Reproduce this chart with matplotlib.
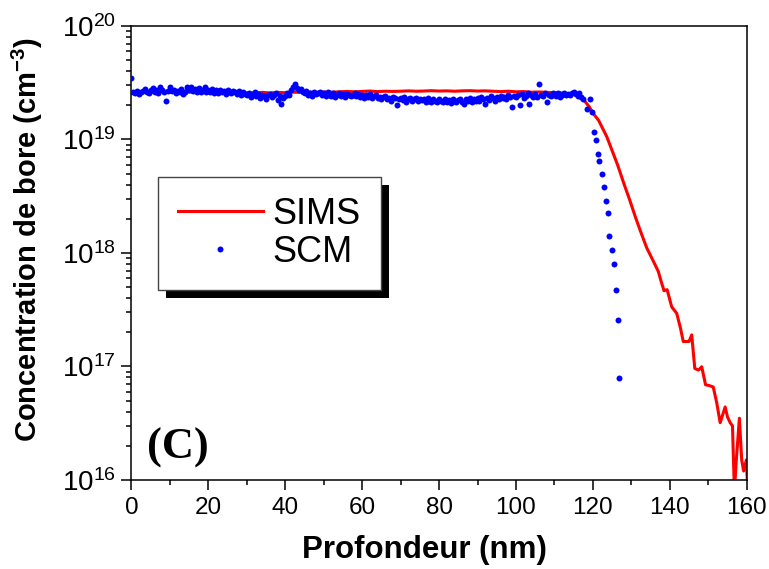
import matplotlib
matplotlib.use("Agg")
import matplotlib.pyplot as plt
import numpy as np
from matplotlib.patches import Rectangle
from matplotlib.ticker import LogLocator, MultipleLocator

plt.rcParams["font.family"] = ["Liberation Sans", "DejaVu Sans"]
plt.rcParams["mathtext.fontset"] = "custom"
plt.rcParams["mathtext.rm"] = "Liberation Sans"
plt.rcParams["mathtext.it"] = "Liberation Sans:italic"
plt.rcParams["mathtext.bf"] = "Liberation Sans:bold"

# --- SIMS profile (depth nm, boron concentration cm^-3) ---------------------
sims_depth = [0, 2, 4, 6, 8, 10, 12, 14, 16, 18, 20, 22, 24, 26, 28, 30, 32, 34, 36, 38,
              40, 42, 44, 46, 48, 50, 52, 54, 56, 58, 60, 62, 64, 66, 68, 70, 72, 74, 76, 78,
              80, 82, 84, 86, 88, 90, 92, 94, 96, 98, 100, 102, 104, 106, 108, 110, 112, 114,
              116, 117, 118, 119, 120, 121.5, 123.6, 125, 126.5, 128, 129.5, 131, 132.3,
              134, 135.5, 137, 137.8, 138.5, 139.3, 140.5, 141.8, 142.8, 143.5, 145.0,
              145.7, 146.5, 147.5, 148.3, 149.3, 150.2, 151.3, 152.2, 153.1, 154.4,
              155.0, 155.7, 156.3, 156.8, 157.3, 158.1, 158.7, 159.2, 159.9, 160.3]
sims_conc = [2.55e19, 2.60e19, 2.62e19, 2.58e19, 2.65e19, 2.60e19, 2.63e19, 2.66e19, 2.60e19, 2.64e19,
             2.62e19, 2.65e19, 2.60e19, 2.58e19, 2.60e19, 2.57e19, 2.58e19, 2.60e19, 2.57e19, 2.60e19,
             2.58e19, 2.61e19, 2.60e19, 2.62e19, 2.60e19, 2.62e19, 2.61e19, 2.63e19, 2.65e19, 2.63e19,
             2.65e19, 2.67e19, 2.64e19, 2.66e19, 2.65e19, 2.66e19, 2.68e19, 2.66e19, 2.67e19, 2.69e19,
             2.67e19, 2.68e19, 2.66e19, 2.68e19, 2.69e19, 2.67e19, 2.68e19, 2.66e19, 2.64e19, 2.66e19,
             2.63e19, 2.64e19, 2.61e19, 2.62e19, 2.60e19, 2.58e19, 2.57e19, 2.53e19,
             2.45e19, 2.35e19, 2.15e19, 1.95e19, 1.71e19, 1.47e19, 1.06e19, 7.98e18, 5.87e18, 4.14e18,
             2.98e18, 2.10e18, 1.58e18, 1.11e18, 8.77e17, 6.89e17, 5.54e17, 4.65e17, 4.75e17, 3.35e17,
             2.94e17, 2.16e17, 1.66e17, 1.66e17, 1.90e17, 9.6e16, 9.3e16, 9.95e16, 6.9e16, 6.8e16,
             6.6e16, 4.8e16, 3.2e16, 4.4e16, 3.6e16, 3.2e16, 3.0e16, 8e15, 1.5e16, 3.5e16,
             1.5e16, 1.2e16, 1.5e16, 8e15]

# --- SCM profile: plateau sampled every 0.5 nm (x1e19 cm^-3) ----------------
scm_plateau = [
    3.45, 2.60, 2.55, 2.68, 2.50, 2.60, 2.65, 2.78, 2.60, 2.55, 2.70, 2.85, 2.62, 2.75, 2.58, 2.90, 2.70, 2.62, 2.20, 2.65,
    2.88, 2.65, 2.75, 2.55, 2.68, 2.62, 2.80, 2.50, 2.60, 2.90, 2.72, 2.92, 2.65, 2.78, 2.60, 2.85, 2.62, 2.75, 2.88, 2.60,
    2.72, 2.62, 2.78, 2.55, 2.70, 2.58, 2.75, 2.60, 2.68, 2.52, 2.70, 2.60, 2.55, 2.68, 2.62, 2.50, 2.65, 2.45, 2.60, 2.50,
    2.45, 2.55, 2.38, 2.50, 2.60, 2.42, 2.52, 2.32, 2.48, 2.40, 2.28, 2.45, 2.52, 2.35, 2.48, 2.58, 2.22, 2.40, 2.05, 2.32,
    2.40, 2.55, 2.45, 2.70, 2.90, 3.05, 2.85, 2.70, 2.78, 2.62, 2.55, 2.65, 2.48, 2.58, 2.42, 2.60, 2.50, 2.55, 2.62, 2.45,
    2.55, 2.42, 2.60, 2.48, 2.42, 2.55, 2.35, 2.48, 2.58, 2.42, 2.50, 2.38, 2.52, 2.45, 2.40, 2.48, 2.55, 2.42, 2.50, 2.38,
    2.45, 2.32, 2.48, 2.38, 2.50, 2.30, 2.40, 2.45, 2.30, 2.38, 2.25, 2.35, 2.40, 2.28, 2.32, 2.20, 2.35, 2.30, 2.02, 2.28,
    2.32, 2.22, 2.35, 2.15, 2.28, 2.32, 2.20, 2.25, 2.30, 2.18, 2.28, 2.22, 2.25, 2.15, 2.30, 2.20, 2.12, 2.25, 2.20, 2.15,
    2.25, 2.18, 2.12, 2.28, 2.15, 2.22, 2.08, 2.25, 2.18, 2.12, 2.22, 2.28, 2.15, 2.05, 2.25, 2.18, 2.30, 2.15, 2.25, 2.20,
    2.30, 2.20, 2.35, 2.25, 2.05, 2.32, 2.22, 2.40, 2.30, 2.20, 2.35, 2.25, 2.42, 2.32, 2.38, 2.28, 2.45, 2.35, 1.95, 2.40,
    2.38, 2.48, 2.00, 2.50, 2.32, 2.42, 2.55, 2.05, 2.45, 2.38, 2.50, 2.35, 3.05, 2.48, 2.40, 2.55, 2.15, 2.45, 2.42, 2.58,
    2.50, 2.42, 2.55, 2.38, 2.48, 2.58, 2.45, 2.52, 2.46, 2.55, 2.62, 2.50, 2.42, 2.55, 2.35, 2.25,
]
scm_plateau_depth = np.arange(0, 118, 0.5)

# SCM drop-off points
scm_tail_depth = [118.4, 119.3, 119.7, 120.2, 120.8, 121.3, 121.7, 122.3, 122.9, 123.4,
                  124.0, 124.3, 124.9, 125.5, 126.0, 126.6, 126.9]
scm_tail_conc = [1.87e19, 2.29e19, 1.75e19, 1.16e19, 9.9e18, 7.5e18, 6.4e18, 5.0e18, 3.8e18, 2.85e18,
                 2.24e18, 1.42e18, 1.07e18, 8.0e17, 4.75e17, 2.58e17, 7.9e16]

scm_depth = np.concatenate([scm_plateau_depth, scm_tail_depth])
scm_conc = np.concatenate([np.array(scm_plateau) * 1e19, scm_tail_conc])

fig = plt.figure(figsize=(7.69, 5.69), dpi=100)
ax = fig.add_axes([0.171, 0.1564, 0.800, 0.798])

ax.plot(sims_depth, sims_conc, color="#ff0000", lw=2.2, label="SIMS", zorder=2)
ax.plot(scm_depth, scm_conc, ls="none", marker="o", ms=4.3, mec="none",
        color="#0000ff", label="SCM", zorder=3)

ax.set_yscale("log")
ax.set_xlim(0, 160)
ax.set_ylim(1e16, 1e20)
ax.xaxis.set_major_locator(MultipleLocator(20))
ax.xaxis.set_minor_locator(MultipleLocator(10))
ax.yaxis.set_major_locator(LogLocator(base=10, numticks=10))
ax.yaxis.set_minor_locator(LogLocator(base=10, subs=np.arange(2, 10), numticks=20))

ax.tick_params(which="both", direction="out", top=False, right=False, width=1.1)
ax.tick_params(which="major", length=7)
ax.tick_params(which="minor", length=3.5)
ax.tick_params(axis="x", labelsize=17.5, pad=5)
ax.tick_params(axis="y", labelsize=20, pad=4)
for sp in ax.spines.values():
    sp.set_linewidth(1.1)

ax.set_xlabel("Profondeur (nm)", fontsize=22.5, fontweight="bold")
ax.xaxis.set_label_coords(0.476, -0.122)
ax.set_ylabel(r"Concentration de bore (cm$^{\mathbf{-3}}$)", fontsize=21, fontweight="bold")
ax.yaxis.set_label_coords(-0.140, 0.53)

ax.text(0.025, 0.048, "(C)", transform=ax.transAxes, ha="left", va="baseline",
        fontsize=32, fontweight="bold", family="Liberation Serif")

leg = ax.legend(loc="upper left", bbox_to_anchor=(0.043, 0.667), borderaxespad=0,
                fontsize=26, handlelength=2.35, handletextpad=0.28, borderpad=0.55,
                labelspacing=0.08, fancybox=False, framealpha=1, markerscale=1.0)
leg.get_frame().set_edgecolor("#444444")
leg.get_frame().set_linewidth(1.0)
leg.set_zorder(6)

# solid black drop shadow behind the legend box
fig.canvas.draw()
bb = leg.get_window_extent().transformed(ax.transAxes.inverted())
ox = 8 / (ax.bbox.width)
oy = 8 / (ax.bbox.height)
ax.add_patch(Rectangle((bb.x0 + ox, bb.y0 - oy), bb.width, bb.height, transform=ax.transAxes,
                       facecolor="black", edgecolor="none", zorder=5, clip_on=False))

fig.savefig("out.png", dpi=100)
